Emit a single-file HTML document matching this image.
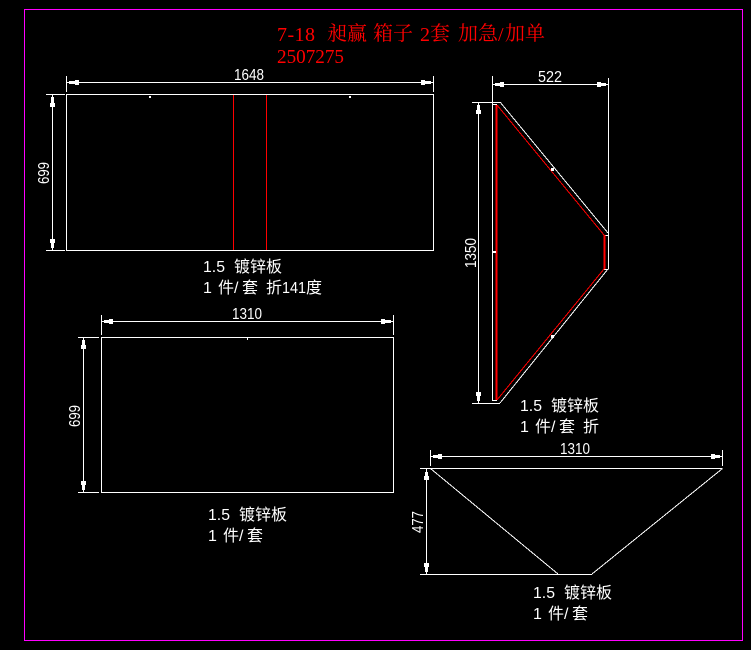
<!DOCTYPE html>
<html><head><meta charset="utf-8"><style>
html,body{margin:0;padding:0;background:#000;width:751px;height:650px;overflow:hidden}
svg{display:block}
.w{stroke:#fff;fill:none;stroke-width:1;shape-rendering:crispEdges}
.r{stroke:#f00;fill:none;stroke-width:1;shape-rendering:crispEdges}
.r2{stroke:#f00;fill:none;stroke-width:2;shape-rendering:crispEdges}
.k{fill:#fff;shape-rendering:crispEdges}
.d{font:16px "Liberation Sans",sans-serif;fill:#fff}
.c{font:16px "Noto Sans CJK SC",sans-serif;fill:#fff}
.l{font:16px "Liberation Sans",sans-serif;fill:#fff}
.tc{font:20px "Noto Serif CJK SC",serif;fill:#f00}
.tl{font:20px "Liberation Serif",serif;fill:#f00}
</style></head><body>
<svg width="751" height="650" viewBox="0 0 751 650" xmlns="http://www.w3.org/2000/svg">
<rect x="0" y="0" width="751" height="650" fill="#000"/>
<rect x="24.5" y="9.5" width="718" height="631" fill="none" stroke="#ff00ff" stroke-width="1" shape-rendering="crispEdges"/>

<!-- title -->
<text class="tl" x="277" y="41" textLength="38" lengthAdjust="spacing">7-18</text>
<text class="tc" x="327" y="40">昶赢</text>
<text class="tc" x="373" y="40">箱子</text>
<text class="tl" x="420" y="41">2</text>
<text class="tc" x="430" y="40">套</text>
<text class="tc" x="458" y="40">加急</text>
<text class="tl" x="498" y="41">/</text>
<text class="tc" x="505" y="40">加单</text>
<text class="tl" x="277" y="63" textLength="67" lengthAdjust="spacingAndGlyphs">2507275</text>

<!-- rect 1 -->
<rect class="w" x="66.5" y="94.5" width="367" height="156"/>
<path class="r" d="M233.500 95V250M266.500 95V250"/>
<rect class="k" x="149" y="96" width="2" height="2"/>
<rect class="k" x="349" y="96" width="2" height="2"/>
<path class="w" d="M66.500 76V92M433.500 76V92M67 82.500H433M46 94.500H65M46 250.500H65M52.500 95V250"/>
<path class="k" d="M69 81h6v3h-6zM75 80h4v5h-4zM425 81h6v3h-6zM421 80h4v5h-4zM51 97h3v6h-3zM50 103h5v4h-5zM51 243h3v5h-3zM50 239h5v4h-5z"/>
<text class="d" x="234" y="80" textLength="30" lengthAdjust="spacingAndGlyphs">1648</text>
<text class="d" transform="translate(49,184) rotate(-90)" textLength="22" lengthAdjust="spacingAndGlyphs">699</text>
<text class="l" x="203" y="272" textLength="22" lengthAdjust="spacingAndGlyphs">1.5</text>
<text class="c" x="234" y="272">镀锌板</text>
<text class="l" x="203" y="293">1</text>
<text class="c" x="218" y="293">件</text>
<text class="l" x="234" y="293">/</text>
<text class="c" x="242" y="293">套</text>
<text class="c" x="266" y="293">折</text>
<text class="l" x="282" y="293" textLength="24" lengthAdjust="spacingAndGlyphs">141</text>
<text class="c" x="306" y="293">度</text>

<!-- rect 2 -->
<rect class="w" x="101.500" y="337.500" width="292" height="155"/>
<rect class="k" x="247" y="338" width="1" height="2"/>
<path class="w" d="M101.500 315V335M393.500 315V335M102 321.500H393M78 337.500H99M78 492.500H99M83.500 338V492"/>
<path class="k" d="M104 320h5v3h-5zM109 319h4v5h-4zM385 320h6v3h-6zM381 319h4v5h-4zM82 340h3v5h-3zM81 345h5v4h-5zM82 485h3v5h-3zM81 481h5v4h-5z"/>
<text class="d" x="232" y="319" textLength="30" lengthAdjust="spacingAndGlyphs">1310</text>
<text class="d" transform="translate(80,427) rotate(-90)" textLength="22" lengthAdjust="spacingAndGlyphs">699</text>
<text class="l" x="208" y="520" textLength="22" lengthAdjust="spacingAndGlyphs">1.5</text>
<text class="c" x="239" y="520">镀锌板</text>
<text class="l" x="208" y="541">1</text>
<text class="c" x="223" y="541">件</text>
<text class="l" x="239" y="541">/</text>
<text class="c" x="247" y="541">套</text>

<!-- side shape -->
<path class="w" d="M492.500 76V400.500H497M492.500 104.500H497M608.500 78V269.500M604 235.500H608M604 269.500H608M478.500 103V403M472 102.500H500M472 403.500H500M492 84.500H608"/>
<path class="w" d="M500 102L608 233M608 269L500 403"/>
<path class="r2" d="M496.500 105V400M604.500 235V269"/>
<path class="r" d="M497 105L604 235M604 269L497 400"/>
<rect class="k" x="551" y="168" width="3" height="3"/>
<rect class="k" x="493" y="251" width="3" height="2"/>
<rect class="k" x="551" y="335" width="3" height="3"/>
<path class="k" d="M495 83h5v3h-5zM500 82h4v5h-4zM601 83h5v3h-5zM597 82h4v5h-4zM477 105h3v5h-3zM476 110h5v4h-5zM477 396h3v5h-3zM476 392h5v4h-5z"/>
<text class="d" x="538" y="82" textLength="24" lengthAdjust="spacingAndGlyphs">522</text>
<text class="d" transform="translate(476,268) rotate(-90)" textLength="30" lengthAdjust="spacingAndGlyphs">1350</text>
<text class="l" x="520" y="411" textLength="22" lengthAdjust="spacingAndGlyphs">1.5</text>
<text class="c" x="551" y="411">镀锌板</text>
<text class="l" x="520" y="432">1</text>
<text class="c" x="535" y="432">件</text>
<text class="l" x="551" y="432">/</text>
<text class="c" x="559" y="432">套</text>
<text class="c" x="583" y="432">折</text>

<!-- trapezoid -->
<path class="w" d="M430 468.500H722.500M420 468.500H430M420 574.500H592M430.500 450V466M722.500 450V466M431 456.500H722M426.500 469V574"/>
<path class="w" d="M430.500 468.500L558 574M722.500 468.500L592 574"/>
<path class="k" d="M433 455h5v3h-5zM438 454h4v5h-4zM715 455h5v3h-5zM711 454h4v5h-4zM425 472h3v4h-3zM424 476h5v4h-5zM425 567h3v5h-3zM424 563h5v4h-5z"/>
<text class="d" x="560" y="454" textLength="30" lengthAdjust="spacingAndGlyphs">1310</text>
<text class="d" transform="translate(423,533) rotate(-90)" textLength="22" lengthAdjust="spacingAndGlyphs">477</text>
<text class="l" x="533" y="598" textLength="22" lengthAdjust="spacingAndGlyphs">1.5</text>
<text class="c" x="564" y="598">镀锌板</text>
<text class="l" x="533" y="619">1</text>
<text class="c" x="548" y="619">件</text>
<text class="l" x="564" y="619">/</text>
<text class="c" x="572" y="619">套</text>
</svg>
</body></html>
